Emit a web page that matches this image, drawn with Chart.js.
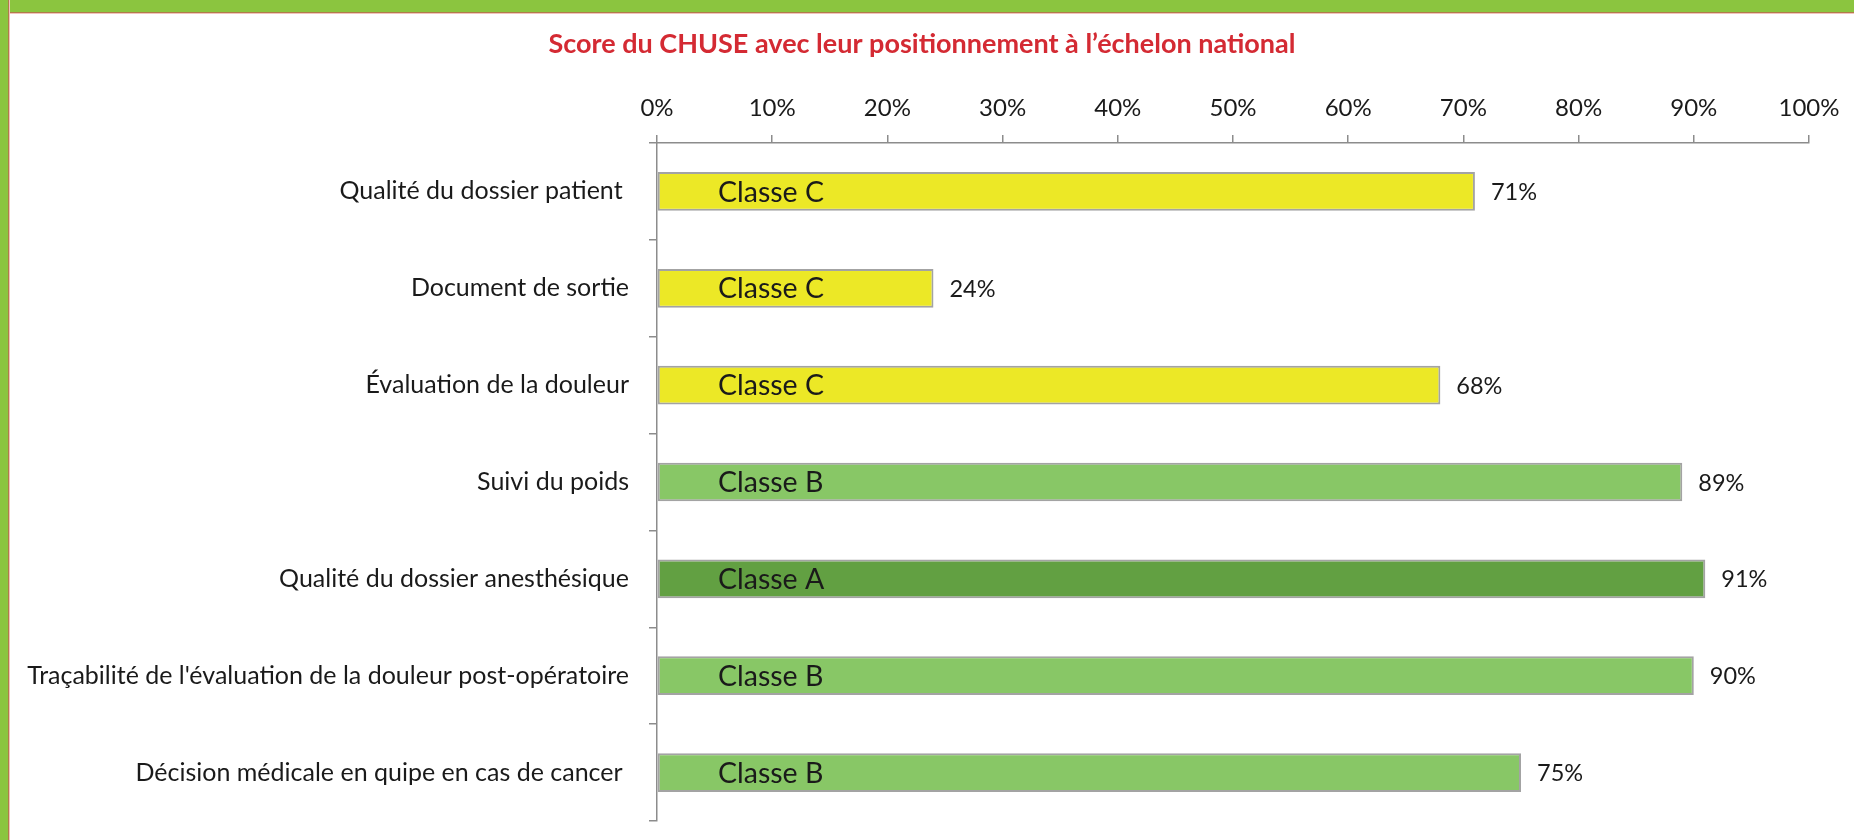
<!DOCTYPE html>
<html>
<head>
<meta charset="utf-8">
<script src="https://cdn.jsdelivr.net/npm/chart.js@4"></script>
<style>
  html, body { margin: 0; padding: 0; background: #ffffff; overflow: hidden; }
  #wrap { position: relative; width: 1854px; height: 840px; overflow: hidden; }
  #topband { position: absolute; left: 0; top: 0; width: 1854px; height: 12px; background: #8bc53f; border-bottom: 1px solid #b07b4a; box-shadow: 0 1px 0 #f2c2bd; }
  #leftband { position: absolute; left: 0; top: 0; width: 8px; height: 840px; background: #8bc53f; border-right: 1px solid #b07b4a; box-shadow: 1px 0 0 #f2c2bd; }
  canvas { position: absolute; left: 0; top: 0; }
</style>
</head>
<body>
<div id="wrap">
  <canvas id="c" width="1854" height="840"></canvas>
  <div id="topband"></div>
  <div id="leftband"></div>
</div>
<script>
// ---- Data ----
const categories = [
  "Qualité du dossier patient ",
  "Document de sortie",
  "Évaluation de la douleur",
  "Suivi du poids",
  "Qualité du dossier anesthésique",
  "Traçabilité de l'évaluation de la douleur post-opératoire",
  "Décision médicale en quipe en cas de cancer "
];
const scores = [71, 24, 68, 89, 91, 90, 75];
const classes = ["Classe C", "Classe C", "Classe C", "Classe B", "Classe A", "Classe B", "Classe B"];
const xTickValues = [0, 10, 20, 30, 40, 50, 60, 70, 80, 90, 100];
const chartTitle = "Score du CHUSE avec leur positionnement à l’échelon national";

// ---- Styles ----
const classColor = { "Classe A": "#62a042", "Classe B": "#88c766", "Classe C": "#ece826" };
const FONT = "Lato, 'Open Sans', sans-serif";
const axisGrey = "#8c8c8c";

const labelPlugin = {
  id: "barLabels",
  afterDatasetsDraw(chart) {
    const ctx = chart.ctx;
    const meta = chart.getDatasetMeta(0);
    const xs = chart.scales.x;
    const x0 = xs.getPixelForValue(0);
    ctx.save();
    ctx.textBaseline = "middle";
    meta.data.forEach((bar, i) => {
      ctx.fillStyle = "#1a1a1a";
      ctx.textAlign = "left";
      ctx.font = "28.5px " + FONT;
      ctx.fillText(classes[i], x0 + 61, bar.y + 1);
      ctx.font = "23.5px " + FONT;
      ctx.fillText(scores[i] + "%", bar.x + 16, bar.y + 1);
    });
    ctx.restore();
  }
};

new Chart(document.getElementById("c"), {
  type: "bar",
  data: {
    labels: categories,
    datasets: [{
      data: scores,
      backgroundColor: classes.map(c => classColor[c]),
      borderColor: "#a3a3a3",
      borderWidth: 2,
      borderSkipped: false,
      barPercentage: 0.4,
      categoryPercentage: 1.0
    }]
  },
  options: {
    indexAxis: "y",
    responsive: false,
    animation: false,
    layout: { padding: { left: 0, right: 10, top: 0, bottom: 19 } },
    plugins: {
      legend: { display: false },
      tooltip: { enabled: false },
      title: {
        display: true,
        text: chartTitle,
        color: "#d42a33",
        font: { family: FONT, size: 27, weight: "bold", lineHeight: 1.2 },
        padding: { top: 28, bottom: 0 }
      }
    },
    scales: {
      x: {
        position: "top",
        min: 0,
        max: 100,
        afterBuildTicks(scale) { scale.ticks = xTickValues.map(v => ({ value: v })); },
        afterFit(scale) { scale.height = 82.6; scale.paddingRight = 45; },
        ticks: {
          callback: v => v + "%",
          color: "#1a1a1a",
          font: { family: FONT, size: 24 },
          padding: 12,
          maxRotation: 0
        },
        grid: { display: true, drawOnChartArea: false, drawTicks: true, tickLength: 8, color: axisGrey, lineWidth: 1.5 },
        border: { display: true, color: axisGrey, width: 1.5 }
      },
      y: {
        afterFit(scale) { scale.width = 657; scale.paddingTop = 0; scale.paddingBottom = 0; },
        ticks: {
          color: "#1a1a1a",
          font: { family: FONT, size: 25 },
          padding: 20
        },
        grid: { display: true, offset: true, drawOnChartArea: false, drawTicks: true, tickLength: 8, color: axisGrey, lineWidth: 1.5 },
        border: { display: true, color: axisGrey, width: 1.5 }
      }
    }
  },
  plugins: [labelPlugin]
});
</script>
</body>
</html>
